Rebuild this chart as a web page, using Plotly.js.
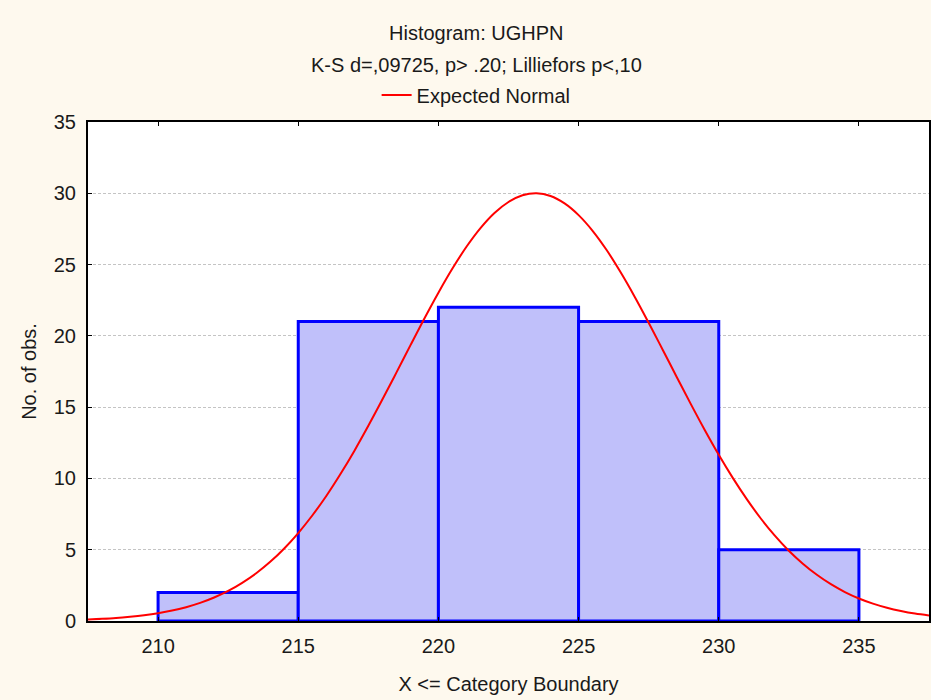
<!DOCTYPE html>
<html>
<head>
<meta charset="utf-8">
<script src="https://cdn.plot.ly/plotly-3.0.1.min.js"></script>
<style>html,body{margin:0;padding:0;background:#FEF9EE;}</style>
</head>
<body>
<div id="chart" style="width:931px;height:700px;"></div>
<script>
// Histogram bins (upper category boundaries) and counts
const binLower = [210, 215, 220, 225, 230];
const binUpper = [215, 220, 225, 230, 235];
const counts = [2, 21, 22, 21, 5];

// Expected normal curve (every 0.5 unit)
const curveX = [207.5, 208, 208.5, 209, 209.5, 210, 210.5, 211, 211.5, 212, 212.5, 213, 213.5, 214, 214.5, 215, 215.5, 216, 216.5, 217, 217.5, 218, 218.5, 219, 219.5, 220, 220.5, 221, 221.5, 222, 222.5, 223, 223.5, 224, 224.5, 225, 225.5, 226, 226.5, 227, 227.5, 228, 228.5, 229, 229.5, 230, 230.5, 231, 231.5, 232, 232.5, 233, 233.5, 234, 234.5, 235, 235.5, 236, 236.5, 237, 237.5];
const curveY = [0.11, 0.15, 0.21, 0.30, 0.41, 0.55, 0.73, 0.97, 1.27, 1.65, 2.11, 2.68, 3.35, 4.15, 5.09, 6.17, 7.40, 8.77, 10.29, 11.93, 13.69, 15.53, 17.42, 19.33, 21.22, 23.03, 24.72, 26.25, 27.56, 28.62, 29.39, 29.86, 30.00, 29.81, 29.29, 28.47, 27.37, 26.02, 24.46, 22.75, 20.92, 19.03, 17.12, 15.23, 13.40, 11.66, 10.04, 8.55, 7.19, 5.99, 4.93, 4.02, 3.24, 2.58, 2.03, 1.58, 1.22, 0.93, 0.70, 0.52, 0.39];

const tickVals = [210, 215, 220, 225, 230, 235];
const yTicks = [0, 5, 10, 15, 20, 25, 30, 35];

const centers = binLower.map((lo, i) => (lo + binUpper[i]) / 2);
const widths = binLower.map((lo, i) => binUpper[i] - lo);

const font = {family: 'Liberation Sans, Arial, sans-serif', size: 20, color: '#1a1a1a'};
const titleFont = {family: 'Liberation Sans, Arial, sans-serif', size: 20, color: '#1a1a1a'};

const traces = [
  {
    type: 'bar',
    x: centers,
    y: counts,
    width: widths,
    marker: {color: 'rgb(192,192,250)', line: {color: '#0000FF', width: 3}},
    showlegend: false,
    hoverinfo: 'x+y'
  },
  {
    type: 'scatter',
    mode: 'lines',
    x: curveX,
    y: curveY,
    line: {color: '#FF0000', width: 2, shape: 'spline', smoothing: 1},
    name: 'Expected Normal',
    showlegend: true
  }
];

const cx = 0.4615;

const layout = {
  width: 931,
  height: 700,
  paper_bgcolor: '#FEF9EE',
  plot_bgcolor: '#FFFFFF',
  font: font,
  margin: {l: 88, r: 2, t: 122, b: 79},
  bargap: 0,
  showlegend: true,
  legend: {
    x: cx, xanchor: 'center', xref: 'paper',
    y: 1.054, yanchor: 'middle',
    orientation: 'h',
    bgcolor: 'rgba(0,0,0,0)',
    font: titleFont
  },
  annotations: [
    {text: 'Histogram: UGHPN', xref: 'paper', yref: 'paper', x: cx, y: 1.178, xanchor: 'center', yanchor: 'middle', showarrow: false, font: titleFont},
    {text: 'K-S d=,09725, p> .20; Lilliefors p<,10', xref: 'paper', yref: 'paper', x: cx, y: 1.114, xanchor: 'center', yanchor: 'middle', showarrow: false, font: titleFont}
  ],
  xaxis: {
    range: [207.5, 237.5],
    tickvals: tickVals,
    ticktext: tickVals.map(String),
    ticks: 'inside',
    ticklen: 4,
    tickcolor: '#000',
    ticklabelstandoff: 6,
    showline: true,
    linecolor: '#000',
    linewidth: 2,
    mirror: 'ticks',
    showgrid: false,
    zeroline: false,
    tickfont: font,
    title: {text: 'X <= Category Boundary', font: font, standoff: 21}
  },
  yaxis: {
    range: [0, 35],
    tickvals: yTicks,
    ticks: 'inside',
    ticklen: 4,
    tickcolor: '#000',
    ticklabelstandoff: 6,
    showline: true,
    linecolor: '#000',
    linewidth: 2,
    mirror: true,
    showgrid: true,
    gridcolor: '#C4C4C4',
    griddash: '3px,2px',
    gridwidth: 1,
    zeroline: false,
    tickfont: font,
    title: {text: 'No. of obs.', font: font, standoff: 12}
  }
};

Plotly.newPlot('chart', traces, layout, {displayModeBar: false, staticPlot: true});
</script>
</body>
</html>
